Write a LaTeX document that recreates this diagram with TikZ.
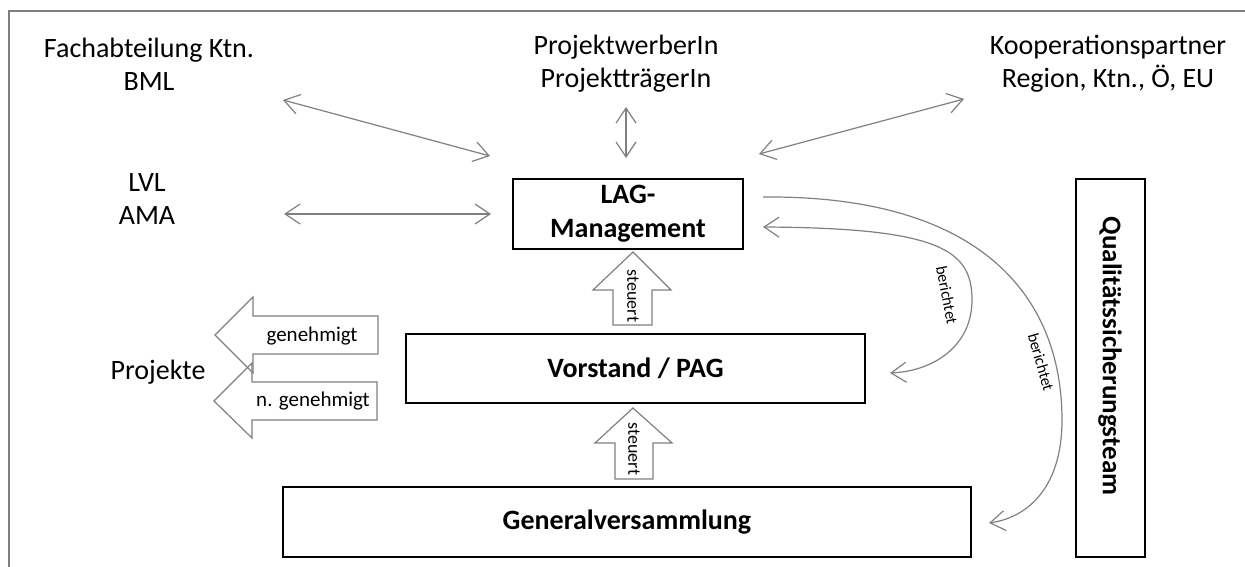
\documentclass[tikz,border=0pt]{standalone}
\usepackage{fontspec}
\setmainfont{Carlito}
\usetikzlibrary{arrows.meta}
\definecolor{lgray}{RGB}{128,128,128}
\definecolor{fgray}{RGB}{127,127,127}
\begin{document}
\begin{tikzpicture}[x=1pt,y=-1pt,
  lbl/.style={font=\fontsize{28}{33}\selectfont, align=center, inner sep=0pt},
  boxnode/.style={draw=black, line width=2pt, font=\bfseries\fontsize{28}{34}\selectfont, align=center, inner sep=0pt},
  mybarb/.tip={Straight Barb[length=15pt,width=20pt]},
  conn/.style={draw=lgray, line width=1.2pt},
  blockarrow/.style={draw=lgray, line width=1.2pt, line join=miter},
  small/.style={font=\fontsize{18}{20}\selectfont, inner sep=0pt},
  tiny/.style={font=\fontsize{16}{18}\selectfont, inner sep=0pt}
]
\useasboundingbox (0,0) rectangle (1245,567);
% frame
\draw[fgray, line width=2pt] (9,567) -- (9,11) -- (1245,11);

% text labels
\node[lbl] (fach) at (149,64) {Fachabteilung Ktn.\\BML};
\node[lbl] (proj) at (626,64) {ProjektwerberIn\\ProjektträgerIn};
\node[lbl] (koop) at (1108,64) {Kooperationspartner\\Region, Ktn., Ö, EU};
\node[lbl] (lvl) at (147,199) {LVL\\AMA};
\node[lbl] (projekte) at (158,372) {Projekte};

% boxes
\node[boxnode, minimum width=230pt, minimum height=70pt] (lag) at (628,214) {LAG-\\Management};
\node[boxnode, minimum width=459pt, minimum height=69pt] (vor) at (635.5,368.5) {Vorstand / PAG};
\node[boxnode, minimum width=688pt, minimum height=70pt] (gv) at (627,522) {Generalversammlung};
\node[draw=black, line width=2pt, minimum width=69pt, minimum height=378pt, inner sep=0pt] (qs) at (1110.5,368) {};
\node[font=\bfseries\fontsize{27}{30}\selectfont, rotate=-90, inner sep=0pt] (qst) at (1110,356) {Qualitätssicherungsteam};

% connector end points
\coordinate (fa1) at (283,100);
\coordinate (fa2) at (490,156);
\coordinate (pr1) at (626,107);
\coordinate (pr2) at (626,158);
\coordinate (ko1) at (964,99);
\coordinate (ko2) at (759,154);
\coordinate (lv1) at (284,214);
\coordinate (lv2) at (491,214);
\coordinate (in1) at (763,227);
\coordinate (in2) at (890,373);
\coordinate (out1) at (763,197);
\coordinate (out2) at (989,523);

\draw[conn, mybarb-mybarb] (fa1) -- (fa2);
\draw[conn, mybarb-mybarb] (pr1) -- (pr2);
\draw[conn, mybarb-mybarb] (ko1) -- (ko2);
\draw[conn, mybarb-mybarb] (lv1) -- (lv2);

% berichtet curves
\draw[conn, mybarb-mybarb] (in1) .. controls (940,228) and (972,250) .. (972,300)
   .. controls (972,345) and (935,371) .. (in2);
\draw[conn, -mybarb] (out1) .. controls (985,195) and (1062,300) .. (1062,420)
   .. controls (1062,485) and (1030,517) .. (out2);
\node[tiny, rotate=-79] (b1) at (947,295) {berichtet};
\node[tiny, rotate=-74] (b2) at (1041,362) {berichtet};

% steuert block arrows
\draw[blockarrow] (613,325) -- (613,290) -- (593,290) -- (633,252) -- (671,290) -- (652,290) -- (652,325) -- cycle;
\draw[blockarrow] (615,479) -- (615,443) -- (595,443) -- (633,408) -- (672,443) -- (653,443) -- (653,479) -- cycle;
\node[small, rotate=-90] (st1) at (633,296) {steuert};
\node[small, rotate=-90] (st2) at (634,449) {steuert};

% genehmigt block arrows
\draw[blockarrow] (378,316) -- (253,316) -- (253,297) -- (215,335) -- (253,373) -- (253,354) -- (378,354) -- cycle;
\draw[blockarrow] (377,382) -- (252,382) -- (252,363) -- (214,401) -- (252,438) -- (252,420) -- (377,420) -- cycle;
\node[font=\fontsize{21}{24}\selectfont, inner sep=0pt] (gen) at (312,336) {genehmigt};
\node[font=\fontsize{21}{24}\selectfont, inner sep=0pt] (ngen) at (313,401) {n. genehmigt};
\end{tikzpicture}
\end{document}
